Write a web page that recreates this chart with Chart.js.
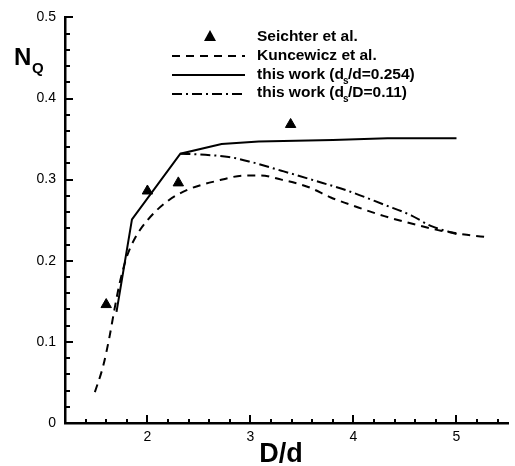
<!DOCTYPE html>
<html>
<head>
<meta charset="utf-8">
<script src="https://cdn.jsdelivr.net/npm/chart.js@4.4.1/dist/chart.umd.min.js"></script>
<style>
  html, body { margin: 0; padding: 0; background: #fff; }
  #wrap { width: 515px; height: 466px; }
</style>
</head>
<body>
<div id="wrap"><canvas id="nqChart" width="515" height="466"></canvas></div>
<script>
// data
var seichterX = [1.6, 2.0, 2.3, 3.39];
var seichterY = [0.146, 0.286, 0.296, 0.368];

var kuncewiczX = [1.49, 1.57, 1.63, 1.68, 1.73, 1.8, 1.88, 2.0, 2.2, 2.4, 2.66, 2.95, 3.1, 3.3, 3.56, 3.78, 4.04, 4.3, 4.65, 4.85, 5.1, 5.3];
var kuncewiczY = [0.038, 0.07, 0.105, 0.14, 0.172, 0.205, 0.228, 0.25, 0.274, 0.288, 0.298, 0.305, 0.305, 0.3, 0.291, 0.278, 0.266, 0.255, 0.243, 0.237, 0.232, 0.229];

var work254X = [1.7, 1.85, 2.32, 2.72, 3.08, 3.8, 4.33, 5.0];
var work254Y = [0.137, 0.251, 0.332, 0.344, 0.347, 0.349, 0.351, 0.351];

var work011X = [2.32, 2.5, 2.79, 3.0, 3.3, 3.62, 3.95, 4.3, 4.56, 4.75, 5.0];
var work011Y = [0.332, 0.331, 0.328, 0.322, 0.311, 0.299, 0.286, 0.269, 0.256, 0.243, 0.233];

var xTicks = [2, 3, 4, 5];
var yTicks = [0, 0.1, 0.2, 0.3, 0.4, 0.5];

function pts(xs, ys) {
    return xs.map(function (x, i) { return { x: x, y: ys[i] }; });
}

var FONT = "'Liberation Sans', Arial, sans-serif";

// inward tick marks, major and minor
var tickMarks = {
    id: "tickMarks",
    afterDraw: function (chart) {
        var ctx = chart.ctx, xs = chart.scales.x, ys = chart.scales.y;
        var a = chart.chartArea;
        ctx.save();
        ctx.strokeStyle = "#000";
        ctx.lineWidth = 2;
        for (var i = 7; i <= 27; i++) {
            var px = Math.round(xs.getPixelForValue(i / 5));
            var len = (i % 5 === 0) ? 8 : 4;
            ctx.beginPath();
            ctx.moveTo(px, a.bottom);
            ctx.lineTo(px, a.bottom - len);
            ctx.stroke();
        }
        for (var j = 1; j <= 25; j++) {
            var py = Math.round(ys.getPixelForValue(j / 50));
            var l2 = (j % 5 === 0) ? 8 : 5;
            ctx.beginPath();
            ctx.moveTo(a.left, py);
            ctx.lineTo(a.left + l2, py);
            ctx.stroke();
        }
        ctx.restore();
    }
};

// axis titles and legend box
var annotations = {
    id: "annotations",
    afterDraw: function (chart) {
        var ctx = chart.ctx;
        ctx.save();
        ctx.fillStyle = "#000";
        ctx.textBaseline = "alphabetic";
        ctx.textAlign = "left";
        ctx.font = "bold 24px " + FONT;
        ctx.fillText("N", 14, 65);
        ctx.font = "bold 15px " + FONT;
        ctx.fillText("Q", 32, 73);

        ctx.textAlign = "center";
        ctx.font = "bold 27px " + FONT;
        ctx.fillText("D/d", 281, 462);

        // legend
        ctx.strokeStyle = "#000";
        ctx.lineWidth = 2;
        ctx.beginPath();
        ctx.moveTo(210, 30);
        ctx.lineTo(216, 41);
        ctx.lineTo(204, 41);
        ctx.closePath();
        ctx.fill();

        var rows = [[56, [8, 6]], [75, []], [94, [10, 4, 2, 4]]];
        rows.forEach(function (r) {
            ctx.setLineDash(r[1]);
            ctx.beginPath();
            ctx.moveTo(172, r[0]);
            ctx.lineTo(245, r[0]);
            ctx.stroke();
        });
        ctx.setLineDash([]);

        ctx.textAlign = "left";
        ctx.textBaseline = "middle";
        var tx = 257;
        var big = "bold 15.5px " + FONT, small = "bold 10px " + FONT;
        ctx.font = big;
        ctx.fillText("Seichter et al.", tx, 37);
        ctx.fillText("Kuncewicz et al.", tx, 56);

        function subLine(pre, sub, post, y) {
            ctx.font = big;
            ctx.fillText(pre, tx, y);
            var w = ctx.measureText(pre).width;
            ctx.font = small;
            ctx.fillText(sub, tx + w - 1, y + 6);
            ctx.font = big;
            ctx.fillText(post, tx + w + 4, y);
        }
        subLine("this work (d", "s", "/d=0.254)", 75);
        subLine("this work (d", "s", "/D=0.11)", 93);
        ctx.restore();
    }
};

new Chart(document.getElementById("nqChart").getContext("2d"), {
    type: "scatter",
    data: {
        datasets: [
            {
                label: "Seichter et al.",
                data: pts(seichterX, seichterY),
                pointStyle: "triangle",
                pointRadius: 6,
                backgroundColor: "#000",
                borderColor: "#000"
            },
            {
                label: "Kuncewicz et al.",
                data: pts(kuncewiczX, kuncewiczY),
                showLine: true,
                borderColor: "#000",
                borderWidth: 2,
                borderDash: [8, 6],
                pointRadius: 0,
                cubicInterpolationMode: "monotone"
            },
            {
                label: "this work (ds/d=0.254)",
                data: pts(work254X, work254Y),
                showLine: true,
                borderColor: "#000",
                borderWidth: 2,
                pointRadius: 0
            },
            {
                label: "this work (ds/D=0.11)",
                data: pts(work011X, work011Y),
                showLine: true,
                borderColor: "#000",
                borderWidth: 2,
                borderDash: [10, 4, 2, 4],
                pointRadius: 0,
                cubicInterpolationMode: "monotone"
            }
        ]
    },
    options: {
        responsive: false,
        animation: false,
        layout: { padding: { left: 0, top: 16, right: 5, bottom: 0 } },
        plugins: {
            legend: { display: false },
            tooltip: { enabled: false }
        },
        scales: {
            x: {
                type: "linear",
                min: 1.2,
                max: 5.5,
                afterBuildTicks: function (s) { s.ticks = xTicks.map(function (v) { return { value: v }; }); },
                afterFit: function (s) { s.height = 43; },
                grid: { display: false, drawTicks: false },
                border: { display: true, color: "#000", width: 2.5 },
                ticks: { color: "#000", padding: 6, font: { size: 14, family: FONT } }
            },
            y: {
                type: "linear",
                min: 0,
                max: 0.5,
                afterBuildTicks: function (s) { s.ticks = yTicks.map(function (v) { return { value: v }; }); },
                afterFit: function (s) { s.width = 65; },
                grid: { display: false, drawTicks: false },
                border: { display: true, color: "#000", width: 2.5 },
                ticks: { color: "#000", padding: 9, font: { size: 14, family: FONT } }
            }
        }
    },
    plugins: [tickMarks, annotations]
});
</script>
</body>
</html>
